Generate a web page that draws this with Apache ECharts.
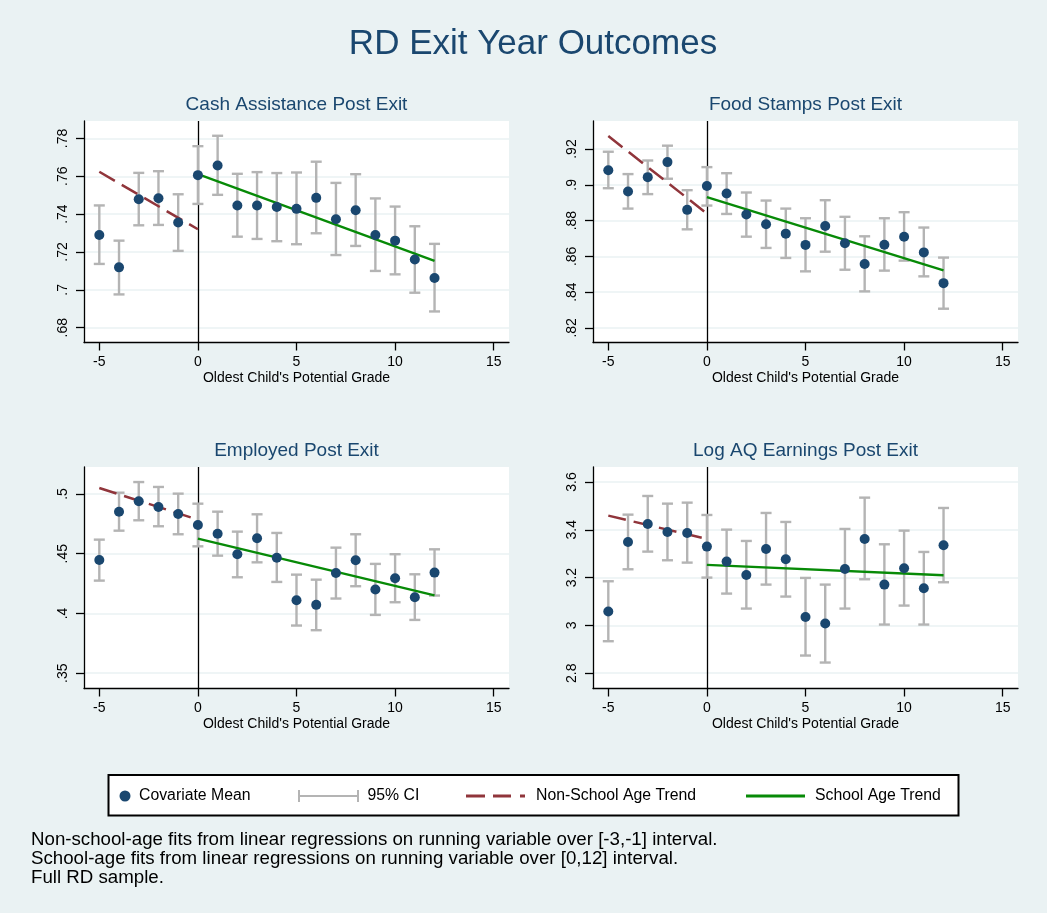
<!DOCTYPE html>
<html>
<head>
<meta charset="utf-8">
<script src="https://cdn.jsdelivr.net/npm/echarts@6/dist/echarts.min.js"></script>
<style>
html,body{margin:0;padding:0;background:#eaf2f3;}
#chart{width:1047px;height:913px;}
</style>
</head>
<body>
<div id="chart"></div>
<script>
// ---------- DATA ----------
const xValues = [-5,-4,-3,-2,-1,0,1,2,3,4,5,6,7,8,9,10,11,12];
const xTicks = [-5,0,5,10,15];
const mainTitle = 'RD Exit Year Outcomes';
const panelTitles = ['Cash Assistance Post Exit','Food Stamps Post Exit','Employed Post Exit','Log AQ Earnings Post Exit'];
const xAxisTitle = "Oldest Child's Potential Grade";
const legendNames = ['Covariate Mean','95% CI','Non-School Age Trend','School Age Trend'];
const notes = [
  'Non-school-age fits from linear regressions on running variable over [-3,-1] interval.',
  'School-age fits from linear regressions on running variable over [0,12] interval.',
  'Full RD sample.'
];

const cashMean = [.7290,.7119,.7479,.7484,.7356,.7606,.7657,.7446,.7446,.7438,.7428,.7486,.7373,.7421,.7290,.7260,.7160,.7063];
const cashHi   = [.7446,.7260,.7618,.7627,.7505,.7759,.7814,.7613,.7622,.7617,.7620,.7677,.7565,.7611,.7483,.7440,.7336,.7243];
const cashLo   = [.7137,.6976,.7341,.7343,.7206,.7454,.7502,.7281,.7269,.7257,.7241,.7299,.7184,.7232,.7100,.7082,.6985,.6886];
const cashYTicks = [0.68,0.7,0.72,0.74,0.76,0.78];
const cashNonSchool = [[-5,.7624],[0,.7320]];
const cashSchool = [[0,.7611],[12,.7153]];

const foodMean = [.9082,.8963,.9043,.9127,.8860,.8993,.8951,.8834,.8779,.8727,.8664,.8770,.8673,.8557,.8665,.8710,.8622,.8450];
const foodHi   = [.9185,.9060,.9136,.9219,.8970,.9099,.9065,.8957,.8912,.8867,.8813,.8914,.8821,.8712,.8813,.8847,.8761,.8593];
const foodLo   = [.8981,.8867,.8948,.9034,.8751,.8884,.8837,.8710,.8647,.8591,.8516,.8626,.8525,.8404,.8520,.8576,.8488,.8307];
const foodYTicks = [0.82,0.84,0.86,0.88,0.9,0.92];
const foodNonSchool = [[-5,.9273],[0,.8839]];
const foodSchool = [[0,.8931],[12,.8521]];

const empMean = [.4448,.4852,.4939,.4891,.4833,.4741,.4668,.4495,.4629,.4467,.4111,.4072,.4339,.4445,.4200,.4295,.4136,.4342];
const empHi   = [.4618,.5011,.5100,.5059,.5003,.4919,.4852,.4685,.4830,.4674,.4325,.4283,.4551,.4663,.4415,.4496,.4328,.4537];
const empLo   = [.4275,.4693,.4780,.4730,.4663,.4562,.4484,.4303,.4428,.4264,.3899,.3860,.4125,.4228,.3988,.4094,.3946,.4150];
const empYTicks = [0.35,0.4,0.45,0.5];
const empNonSchool = [[-5,.5050],[0,.4785]];
const empSchool = [[0,.4626],[12,.4152]];

const earnMean = [3.0578,3.3491,3.4244,3.3909,3.3868,3.3296,3.2669,3.2111,3.3199,3.2767,3.0355,3.0077,3.2362,3.3617,3.1707,3.2390,3.1554,3.3352];
const earnHi   = [3.1847,3.4634,3.5415,3.5094,3.5136,3.4620,3.4007,3.3533,3.4704,3.4328,3.1986,3.1707,3.4035,3.5345,3.3394,3.3965,3.3073,3.4913];
const earnLo   = [2.9338,3.2348,3.3087,3.2725,3.2627,3.2000,3.1331,3.0704,3.1707,3.1206,2.8739,2.8446,3.0704,3.1930,3.0035,3.0829,3.0035,3.1805];
const earnYTicks = [2.8,3,3.2,3.4,3.6];
const earnNonSchool = [[-5,3.4592],[0,3.3617]];
const earnSchool = [[0,3.2530],[12,3.2098]];

// ---------- LAYOUT / STYLE ----------
const FONT = '"Liberation Sans", Arial, Helvetica, sans-serif';
const NAVY = '#1a476f', MAROON = '#90353b', GREEN = '#078a07', CIGRAY = '#b4b4b4';
const panels = [
  {title: panelTitles[0], mean: cashMean, lo: cashLo, hi: cashHi, ticks: cashYTicks, ns: cashNonSchool, s: cashSchool, ymin: .6722, ymax: .7892, left: 84,  top: 121},
  {title: panelTitles[1], mean: foodMean, lo: foodLo, hi: foodHi, ticks: foodYTicks, ns: foodNonSchool, s: foodSchool, ymin: .8118, ymax: .9357, left: 593, top: 121},
  {title: panelTitles[2], mean: empMean,  lo: empLo,  hi: empHi,  ticks: empYTicks,  ns: empNonSchool,  s: empSchool,  ymin: .3372, ymax: .5226, left: 84,  top: 467},
  {title: panelTitles[3], mean: earnMean, lo: earnLo, hi: earnHi, ticks: earnYTicks, ns: earnNonSchool, s: earnSchool, ymin: 2.736, ymax: 3.6627, left: 593, top: 467}
];
const GW = 425, GH = 221.5;
const XMIN = -5.776, XMAX = 15.776;

function fmtStata(v) { return String(v).replace(/^0\./, '.').replace(/^-0\./, '-.'); }

const grid = [], xAxis = [], yAxis = [], series = [], titles = [];
titles.push({text: mainTitle, left: 533, top: 27, textAlign: 'center', padding: 0,
  textStyle: {fontFamily: FONT, fontSize: 35, fontWeight: 'normal', color: NAVY}});

panels.forEach((p, i) => {
  grid.push({left: p.left, top: p.top, width: GW, height: GH, show: true, backgroundColor: '#ffffff', borderWidth: 0, containLabel: false});
  titles.push({text: p.title, left: p.left + GW / 2, top: p.top - 26, textAlign: 'center', padding: 0,
    textStyle: {fontFamily: FONT, fontSize: 19, fontWeight: 'normal', color: NAVY}});
  xAxis.push({
    type: 'value', gridIndex: i, min: XMIN, max: XMAX,
    name: xAxisTitle, nameLocation: 'middle', nameGap: 29,
    nameTextStyle: {fontFamily: FONT, fontSize: 14, color: '#000'},
    axisLine: {show: true, onZero: false, lineStyle: {color: '#000', width: 1.3}},
    axisTick: {show: true, length: 8, customValues: xTicks, lineStyle: {color: '#000', width: 1.3}},
    axisLabel: {show: true, customValues: xTicks, fontFamily: FONT, fontSize: 14, color: '#000', margin: 13, formatter: v => String(v)},
    splitLine: {show: false}
  });
  yAxis.push({
    type: 'value', gridIndex: i, min: p.ymin, max: p.ymax,
    axisLine: {show: true, onZero: false, lineStyle: {color: '#000', width: 1.3}},
    axisTick: {show: true, length: 8, customValues: p.ticks, lineStyle: {color: '#000', width: 1.3}},
    axisLabel: {show: true, customValues: p.ticks, rotate: 90, fontFamily: FONT, fontSize: 14, color: '#000', margin: 14, formatter: v => fmtStata(v)},
    splitLine: {show: true, lineStyle: {color: '#eaf2f3', width: 1.6}}
  });
  // vertical reference line at the cutoff
  series.push({
    type: 'line', xAxisIndex: i, yAxisIndex: i, data: [], z: 1, silent: true,
    markLine: {silent: true, symbol: 'none', z: 1, animation: false, label: {show: false},
      lineStyle: {color: '#000', width: 1.3, type: 'solid'}, data: [{xAxis: 0}]}
  });
  // confidence intervals
  series.push({
    name: legendNames[1], type: 'custom', xAxisIndex: i, yAxisIndex: i, z: 2,
    itemStyle: {color: CIGRAY},
    encode: {x: 0, y: [1, 2]},
    data: xValues.map((x, j) => [x, p.lo[j], p.hi[j]]),
    renderItem: (params, api) => {
      const x = api.value(0);
      const a = api.coord([x, api.value(1)]);
      const b = api.coord([x, api.value(2)]);
      const hw = 5.5;
      const st = {stroke: CIGRAY, lineWidth: 2.4};
      return {type: 'group', children: [
        {type: 'line', shape: {x1: a[0], y1: a[1], x2: b[0], y2: b[1]}, style: st},
        {type: 'line', shape: {x1: a[0] - hw, y1: a[1], x2: a[0] + hw, y2: a[1]}, style: st},
        {type: 'line', shape: {x1: b[0] - hw, y1: b[1], x2: b[0] + hw, y2: b[1]}, style: st}
      ]};
    }
  });
  // trends
  series.push({
    name: legendNames[2], type: 'line', xAxisIndex: i, yAxisIndex: i, z: 3,
    data: p.ns, symbol: 'none', showSymbol: false, color: MAROON,
    lineStyle: {color: MAROON, width: 2.5, type: [18, 8]}
  });
  series.push({
    name: legendNames[3], type: 'line', xAxisIndex: i, yAxisIndex: i, z: 3,
    data: p.s, symbol: 'none', showSymbol: false, color: GREEN,
    lineStyle: {color: GREEN, width: 2.3, type: 'solid'}
  });
  // covariate means
  series.push({
    name: legendNames[0], type: 'scatter', xAxisIndex: i, yAxisIndex: i, z: 4,
    data: xValues.map((x, j) => [x, p.mean[j]]),
    symbol: 'circle', symbolSize: 10, itemStyle: {color: NAVY, opacity: 1}
  });
});

titles.push({text: notes.join('\n'), left: 31, top: 831, padding: 0,
  textStyle: {fontFamily: FONT, fontSize: 18.7, fontWeight: 'normal', color: '#000', lineHeight: 18.7}});

const legendBase = {orient: 'horizontal', padding: 0, selectedMode: false, itemGap: 0,
  itemStyle: {borderWidth: 0, opacity: 1}};
function mkLegend(name, icon, left, w, h, padLeft) {
  return Object.assign({}, legendBase, {
    data: [{name: name, icon: icon}], left: left, top: 788, itemWidth: w, itemHeight: h,
    textStyle: {fontFamily: FONT, fontSize: 15.8, color: '#000', lineHeight: 16, padding: [0, 0, 0, padLeft]}
  });
}
const legend = [
  mkLegend(legendNames[0], 'circle', 119.5, 11, 11, 3.5),
  mkLegend(legendNames[1], 'path://M0,0h2v12h-2zM2,5h57v2h-57zM59,0h2v12h-2z', 298, 61, 12, 3.5),
  mkLegend(legendNames[2], 'path://M0,0h19v3h-19zM27,0h18v3h-18zM54,0h5v3h-5z', 466, 59, 3, 6),
  mkLegend(legendNames[3], 'path://M0,0h59v3h-59z', 746, 59, 3, 5)
];

const chart = echarts.init(document.getElementById('chart'), null, {renderer: 'canvas'});
chart.setOption({
  backgroundColor: '#eaf2f3',
  animation: false,
  textStyle: {fontFamily: FONT},
  title: titles,
  legend: legend,
  graphic: [{type: 'rect', shape: {x: 108.5, y: 775, width: 850, height: 40.5},
    style: {fill: '#ffffff', stroke: '#000', lineWidth: 2}, z: -1, silent: true}],
  grid: grid, xAxis: xAxis, yAxis: yAxis, series: series
});
</script>
</body>
</html>
